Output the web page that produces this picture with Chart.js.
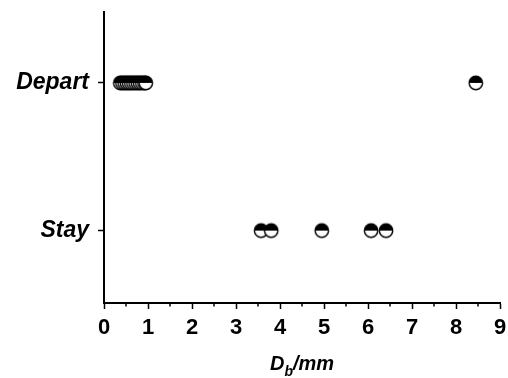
<!DOCTYPE html>
<html><head><meta charset="utf-8">
<script src="https://cdn.jsdelivr.net/npm/chart.js@4"></script>
<style>html,body{margin:0;padding:0;background:#fff}#wrap{width:508px;height:378px}</style>
</head><body><div id="wrap"><canvas id="c" width="508" height="378"></canvas></div>
<script>
const categories = ['Stay', 'Depart'];
const departDb = [0.37, 0.42, 0.47, 0.52, 0.57, 0.62, 0.67, 0.72, 0.77, 0.82, 0.87, 0.92, 0.95, 8.45];
const stayDb = [3.57, 3.8, 4.95, 6.07, 6.41];
const xTicks = [0, 1, 2, 3, 4, 5, 6, 7, 8, 9];
const xMinorTicks = [0.5, 1.5, 2.5, 3.5, 4.5, 5.5, 6.5, 7.5, 8.5];

function halfCircle() {
  const s = 18, cv = document.createElement('canvas');
  cv.width = s; cv.height = s;
  const g = cv.getContext('2d'), r = 6.7, c = s / 2;
  g.beginPath(); g.arc(c, c, r, 0, Math.PI * 2); g.fillStyle = '#fff'; g.fill();
  g.beginPath(); g.arc(c, c, r, Math.PI, 0); g.closePath(); g.fillStyle = '#000'; g.fill();
  g.beginPath(); g.arc(c, c, r, 0, Math.PI * 2); g.lineWidth = 1.4; g.strokeStyle = '#000'; g.stroke();
  return cv;
}
const marker = halfCircle();

const toPts = (arr, cat) => arr.map(v => ({ x: v, y: categories.indexOf(cat) }));

const extras = {
  id: 'extras',
  afterDraw(chart) {
    const ctx = chart.ctx, xs = chart.scales.x, bottom = chart.chartArea.bottom;
    ctx.save();
    ctx.strokeStyle = '#000'; ctx.lineWidth = 1.5;
    xMinorTicks.forEach(v => {
      const px = xs.getPixelForValue(v);
      ctx.beginPath(); ctx.moveTo(px, bottom); ctx.lineTo(px, bottom + 3.5); ctx.stroke();
    });
    const cx = (chart.chartArea.left + chart.chartArea.right) / 2;
    const base = 370;
    ctx.fillStyle = '#000';
    ctx.textBaseline = 'alphabetic';
    const fMain = 'italic bold 20px "Liberation Sans", Arial, sans-serif';
    const fSub = 'italic bold 14px "Liberation Sans", Arial, sans-serif';
    ctx.font = fMain; const wD = ctx.measureText('D').width; const wR = ctx.measureText('/mm').width;
    ctx.font = fSub; const wb = ctx.measureText('b').width;
    let x0 = cx - (wD + wb + wR) / 2;
    ctx.font = fMain; ctx.fillText('D', x0, base);
    ctx.font = fSub; ctx.fillText('b', x0 + wD, base + 6);
    ctx.font = fMain; ctx.fillText('/mm', x0 + wD + wb, base);
    ctx.restore();
  }
};

new Chart(document.getElementById('c'), {
  type: 'scatter',
  data: {
    datasets: [
      { label: 'Depart', data: toPts(departDb, 'Depart'), pointStyle: marker, pointRadius: 7, pointHoverRadius: 7 },
      { label: 'Stay', data: toPts(stayDb, 'Stay'), pointStyle: marker, pointRadius: 7, pointHoverRadius: 7 }
    ]
  },
  plugins: [extras],
  options: {
    responsive: false,
    animation: false,
    layout: { padding: { top: 12, right: 8, left: 0, bottom: 0 } },
    plugins: { legend: { display: false }, tooltip: { enabled: false } },
    scales: {
      x: {
        type: 'linear', min: 0, max: 9,
        afterBuildTicks(s) { s.ticks = xTicks.map(v => ({ value: v })); },
        afterFit(s) { s.height = 75; s.paddingLeft = 0; s.paddingRight = 0; },
        border: { display: true, color: '#000', width: 2 },
        grid: { drawOnChartArea: false, drawTicks: true, tickLength: 6, tickColor: '#000', tickWidth: 1.5 },
        ticks: { color: '#000', padding: 6, maxRotation: 0, font: { family: '"Liberation Sans", Arial, sans-serif', size: 22, weight: 'bold' } }
      },
      y: {
        type: 'linear', min: -0.49, max: 1.48,
        afterBuildTicks(s) { s.ticks = categories.map((c, i) => ({ value: i })); },
        afterFit(s) { s.width = 104; s.paddingTop = 0; s.paddingBottom = 0; },
        border: { display: true, color: '#000', width: 2 },
        grid: { drawOnChartArea: false, drawTicks: true, tickLength: 6, tickColor: '#000', tickWidth: 1.5 },
        ticks: { color: '#000', padding: 9, callback: v => categories[v] ?? '', font: { family: '"Liberation Sans", Arial, sans-serif', size: 23, weight: 'bold', style: 'italic' } }
      }
    }
  }
});
</script></body></html>
